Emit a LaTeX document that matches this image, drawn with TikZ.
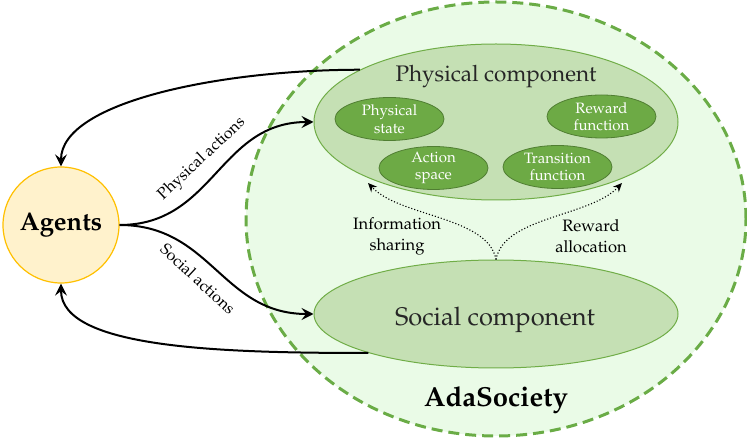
\documentclass[tikz,border=0pt]{standalone}
\usepackage[T1]{fontenc}
\usepackage{mathpazo}
\usetikzlibrary{arrows.meta,shapes.geometric}
\definecolor{bigfill}{HTML}{EAFBE7}
\definecolor{biggreen}{HTML}{6AAC46}
\definecolor{compfill}{HTML}{C5E0B4}
\definecolor{compdraw}{HTML}{70AD47}
\definecolor{innerfill}{HTML}{6DAA45}
\definecolor{innerdraw}{HTML}{507E32}
\definecolor{agfill}{HTML}{FFF2CC}
\definecolor{agdraw}{HTML}{FFC000}
\definecolor{txt}{HTML}{262626}
\tikzset{
 society/.style={ellipse, draw=biggreen, fill=bigfill, line width=3pt, dash pattern=on 11pt off 6pt, minimum width=500pt, minimum height=434pt, inner sep=0pt},
 comp/.style={ellipse, draw=compdraw, fill=compfill, line width=1pt, inner sep=0pt},
 sub/.style={ellipse, draw=innerdraw, fill=innerfill, line width=0.8pt, minimum width=109pt, minimum height=43pt, inner sep=0pt},
 subtext/.style={font=\fontsize{15}{17.5}\selectfont, text=white, align=center},
 agentstyle/.style={circle, draw=agdraw, fill=agfill, line width=1.2pt, minimum size=116pt, inner sep=0pt, font=\bfseries\fontsize{25.5}{30}\selectfont},
 flow/.style={line width=2pt, -{Stealth[length=12pt,width=12pt,inset=4.5pt]}},
 share/.style={line width=1.1pt, dotted, -{Stealth[length=9pt,width=8pt,inset=3pt]}},
 lbl/.style={font=\fontsize{16.5}{21}\selectfont, align=center, text=black},
 edgelbl/.style={font=\fontsize{16}{19}\selectfont, text=black},
 title/.style={font=\bfseries\fontsize{27.5}{32}\selectfont},
}
\begin{document}
\begin{tikzpicture}[x=1pt,y=1pt]
\useasboundingbox (0,0) rectangle (747,442);
% AdaSociety
\node[society] (ada) at (496,223) {};
\node[title, anchor=base] (adat) at (496,36) {AdaSociety};
% components
\node[comp, minimum width=364pt, minimum height=156pt] (phys) at (496,320) {};
\node[comp, minimum width=364pt, minimum height=108pt] (soc) at (496,128) {};
\node[anchor=base, font=\fontsize{22.5}{26}\selectfont, text=txt] (physt) at (496,360) {Physical component};
\node[anchor=base, font=\fontsize{25.5}{30}\selectfont, text=txt] (soct) at (495,116) {Social component};
% sub-ellipses
\node[sub, label={[subtext]center:Physical\\state}] (pstate) at (389.5,323) {};
\node[sub, label={[subtext]center:Reward\\function}] (rfun) at (601.5,325.5) {};
\node[sub, label={[subtext]center:Action\\space}] (aspace) at (433.5,274) {};
\node[sub, label={[subtext]center:Transition\\function}] (tfun) at (557.5,275) {};
% agents
\node[agentstyle] (ag) at (61,217) {Agents};
% feedback arrows
\draw[flow] (phys.159) .. controls +(-137,0) and +(0,65) .. (ag.north);
\draw[flow] (soc.197) .. controls +(-147,0) and +(0,-65) .. (ag.south);
% action arrows
\draw[flow] (ag.east) to[out=0,in=180,looseness=1.1] (phys.west);
\draw[flow] (ag.east) to[out=0,in=180,looseness=1.1] (soc.west);
\node[edgelbl, rotate=43] (pal) at (202,283) {Physical actions};
\node[edgelbl, rotate=-43] (sal) at (198,163) {Social actions};
% dotted arrows
\coordinate (infotip) at (368,259);
\coordinate (rewtip) at (622,259);
\draw[share] (soc.north) .. controls +(-8,43) and +(32,-34) .. (infotip);
\draw[share] (soc.north) .. controls +(8,43) and +(-32,-34) .. (rewtip);
\node[lbl] (infol) at (397,206) {Information\\sharing};
\node[lbl] (rewl) at (591,206) {Reward\\allocation};
\end{tikzpicture}
\end{document}
